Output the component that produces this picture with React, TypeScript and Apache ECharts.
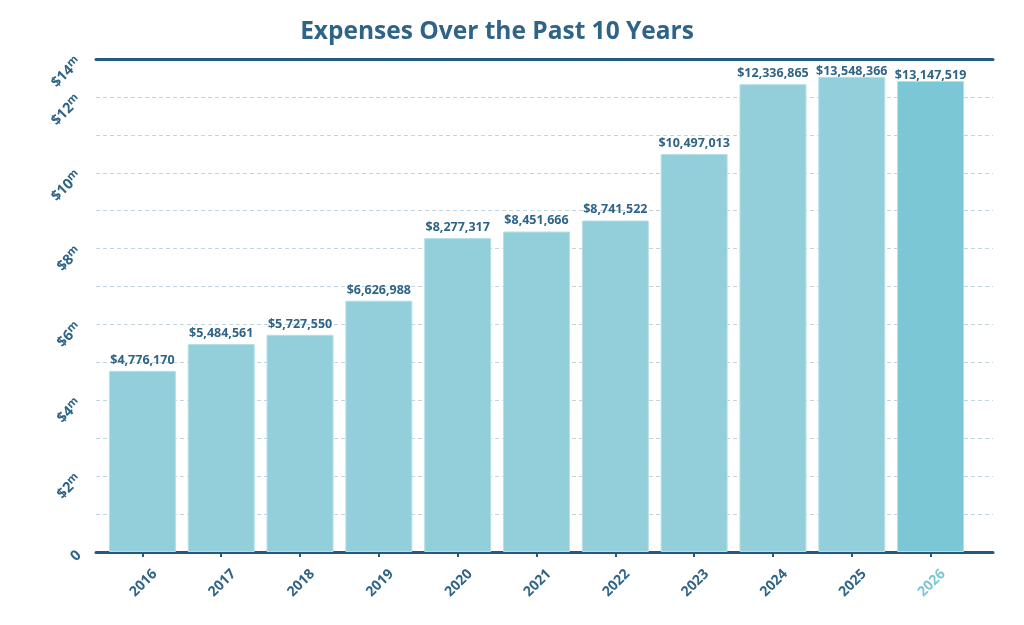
import { useEffect, useRef } from 'react';
import * as echarts from 'echarts';

const YEARS = ['2016', '2017', '2018', '2019', '2020', '2021', '2022', '2023', '2024', '2025', '2026'];

// stated amounts (shown in labels)
const AMOUNTS = [4776170, 5484561, 5727550, 6626988, 8277317, 8451666, 8741522, 10497013, 12336865, 13548366, 13147519];

// bar heights as drawn in the picture (the last two are squeezed under the top line)
const BAR_HEIGHTS = [4776170, 5484561, 5727550, 6626988, 8277317, 8451666, 8741522, 10497013, 12336865, 12530000, 12420000];

// y tick labels, one per gridline (blank where there is none)
const Y_TICK_LABELS = ['0', '', '$2', '', '$4', '', '$6', '', '$8', '', '$10', '', '$12', '$14'];

const DARK = '#245a7d';
const TEXT = '#2f6487';
const BAR = '#92cfdb';
const BAR_LAST = '#7cc7d5';

export default function App() {
  const chartRef = useRef<HTMLDivElement>(null);

  useEffect(() => {
    if (!chartRef.current) return;
    const chart = echarts.init(chartRef.current, undefined, { renderer: 'svg' });

    const option: echarts.EChartsOption = {
      animation: false,
      textStyle: { fontFamily: 'Open Sans' },
      graphic: [
        {
          type: 'text',
          x: 497,
          y: 29,
          style: {
            text: 'Expenses Over the Past 10 Years',
            fill: TEXT,
            font: 'bold 24.5px "Open Sans"',
            textAlign: 'center',
            textVerticalAlign: 'middle',
          },
        },
      ],
      grid: [
        { left: 103, right: 54, top: 59, bottom: 73 },
        { left: 96, right: 31, top: 59, bottom: 73 },
      ],
      xAxis: [
        {
          type: 'category',
          gridIndex: 0,
          data: YEARS,
          axisLine: { show: false },
          axisTick: { show: true, alignWithLabel: true, length: 5, lineStyle: { color: DARK, width: 2 } },
          axisLabel: {
            rotate: 45,
            align: 'center',
            verticalAlign: 'middle',
            margin: 30,
            fontSize: 14,
            fontWeight: 'bold',
            color: (_v: any, i: number) => (i === YEARS.length - 1 ? BAR_LAST : TEXT),
          } as any,
        },
        {
          type: 'category',
          gridIndex: 1,
          data: [''],
          position: 'bottom',
          axisLine: { show: true, lineStyle: { color: DARK, width: 3 } },
          axisTick: { show: false },
          axisLabel: { show: false },
        },
        {
          type: 'category',
          gridIndex: 1,
          data: [''],
          position: 'top',
          axisLine: { show: true, lineStyle: { color: DARK, width: 3 } },
          axisTick: { show: false },
          axisLabel: { show: false },
        },
      ],
      yAxis: [
        {
          type: 'value',
          gridIndex: 0,
          min: 0,
          max: 13000000,
          show: false,
        },
        {
          type: 'value',
          gridIndex: 1,
          min: 0,
          max: 13000000,
          interval: 1000000,
          axisLine: { show: false },
          axisTick: { show: false },
          splitLine: { lineStyle: { color: '#c2d5e1', width: 1, type: [4, 3] } },
          axisLabel: {
            rotate: 45,
            margin: 18,
            formatter: (v: number) => {
              const t = Y_TICK_LABELS[Math.round(v / 1000000)];
              if (!t) return '';
              return t === '0' ? '{v|0}' : `{v|${t}}{m|m}`;
            },
            rich: {
              v: { fontSize: 14.5, fontWeight: 'bold', color: TEXT, fontFamily: 'Open Sans', lineHeight: 18 },
              m: { fontSize: 11, fontWeight: 'bold', color: TEXT, fontFamily: 'Open Sans', verticalAlign: 'top', lineHeight: 18 },
            },
          },
        },
      ],
      series: [
        {
          type: 'bar',
          xAxisIndex: 0,
          yAxisIndex: 0,
          barWidth: 67,
          data: BAR_HEIGHTS.map((v, i) => ({
            value: v,
            itemStyle: { color: i === BAR_HEIGHTS.length - 1 ? BAR_LAST : BAR },
            // the two tallest labels sit tight under the top line
            label: i >= 9 ? { distance: 0 } : undefined,
          })),
          itemStyle: { borderColor: '#b6e0e8', borderWidth: 1 },
          label: {
            show: true,
            position: 'top',
            distance: 5,
            color: TEXT,
            fontSize: 12.5,
            fontWeight: 'bold',
            formatter: (p: any) => '$' + AMOUNTS[p.dataIndex].toLocaleString('en-US'),
          },
        },
      ],
    };

    chart.setOption(option);

    return () => {
      chart.dispose();
    };
  }, []);

  return <div ref={chartRef} style={{ position: 'fixed', left: 0, top: 0, width: '1024px', height: '625px' }} />;
}
